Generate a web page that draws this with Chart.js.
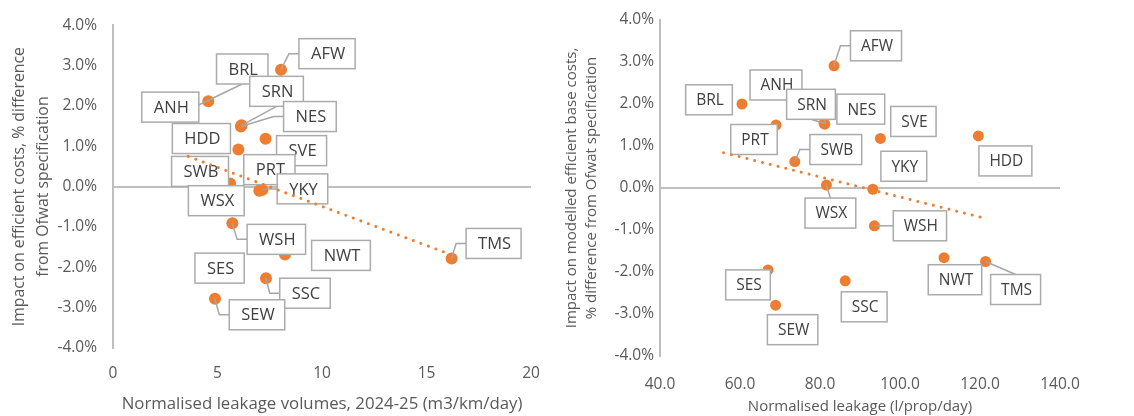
<!DOCTYPE html>
<html>
<head>
<meta charset="utf-8">
<script src="https://cdn.jsdelivr.net/npm/chart.js@4.4.1/dist/chart.umd.min.js"></script>
<style>
  html, body { margin: 0; padding: 0; background: #fff; }
  #wrap { position: relative; width: 1134px; height: 416px; }
  canvas { position: absolute; top: 0; }
  #leftChart { left: 0; }
  #rightChart { left: 560px; }
</style>
</head>
<body>
<div id="wrap">
  <canvas id="leftChart" width="560" height="416"></canvas>
  <canvas id="rightChart" width="574" height="416"></canvas>
</div>
<script>
// company codes, same order in both charts
const companies = ['AFW', 'BRL', 'ANH', 'SRN', 'NES', 'HDD', 'SVE', 'SWB', 'PRT', 'YKY', 'WSX', 'WSH', 'NWT', 'SES', 'SSC', 'SEW', 'TMS'];

// left chart: normalised leakage volumes (m3/km/day) vs impact on efficient costs (%)
const leakageVolumes = [8.04, 3.6, 4.56, 6.15, 6.12, 6.0, 7.3, 5.6, 7.1, 7.15, 7.0, 5.71, 8.23, 5.1, 7.32, 4.88, 16.2];
const impactCosts = [2.90, 1.90, 2.12, 1.52, 1.49, 0.92, 1.19, 0.08, -0.05, -0.08, -0.10, -0.91, -1.68, -2.02, -2.27, -2.78, -1.78];
const leftTrendX = [3.6, 16.2];
const leftTrendY = [0.75, -1.69];

// right chart: normalised leakage (l/prop/day) vs impact on modelled efficient base costs (%)
const leakagePerProp = [83.5, 56.0, 60.5, 81.0, 81.2, 119.6, 95.1, 73.7, 69.0, 93.2, 81.6, 93.6, 111.0, 67.0, 86.3, 68.9, 121.4];
const impactBaseCosts = [2.91, 2.10, 2.00, 1.54, 1.52, 1.24, 1.18, 0.63, 1.50, -0.03, 0.07, -0.90, -1.66, -1.95, -2.21, -2.79, -1.75];
const rightTrendX = [55.9, 120.8];
const rightTrendY = [0.84, -0.71];

// label box placement relative to its point (px) and where the leader line joins the box
const leftLabelPos = [
  [46, -16, 'L'], [54, -41, 'B'], [-38, 6], [35, -34, 'B'], [69, -10, 'L'], [-37, -11], [36, 12],
  [-30, -12], [8, -19], [40, -1, 'L'], [-43, 10], [44, 16, 'L'], [56, 1], [0, 0],
  [39, 15, 'L'], [42, 16, 'L'], [42, -15, 'L']
];
const rightLabelPos = [
  [42, -20, 'L'], [-15, 0], [34, -19], [-13, -19, 'B'], [36, -15, 'L'], [27, 25], [33, -17],
  [41, -12, 'L'], [-22, 14.5], [31, -23], [4, 28, 'T'], [45.5, 0, 'L'], [11, 22], [-20, 15],
  [19, 26], [17, 24.5], [30, 28, 'T']
];

const ORANGE = '#ED7D31';
const AXIS_GREY = '#BFBFBF';
const TEXT_GREY = '#595959';
const FONT = "'Open Sans', sans-serif";

const boxLabels = {
  id: 'boxLabels',
  afterDatasetDraw(chart, args, opts) {
    if (args.index !== 0) return;
    const ctx = chart.ctx;
    const xs = chart.scales.x, ys = chart.scales.y;
    const pts = chart.data.datasets[0].data;
    ctx.save();
    ctx.font = opts.fontSize + 'px ' + FONT;
    const boxes = pts.map((p, i) => {
      const px = xs.getPixelForValue(p.x), py = ys.getPixelForValue(p.y);
      const pos = opts.positions[i];
      const w = ctx.measureText(opts.names[i]).width + 2 * opts.padX;
      return { px, py, bx: px + pos[0], by: py + pos[1], w, h: opts.boxH, lead: pos[2], text: opts.names[i] };
    });
    // leader lines first, boxes go over them
    ctx.strokeStyle = '#A6A6A6';
    ctx.lineWidth = 1.5;
    boxes.forEach(b => {
      if (!b.lead) return;
      ctx.beginPath();
      ctx.moveTo(b.px, b.py);
      if (b.lead === 'L') {
        const ex = b.bx - b.w / 2;
        ctx.lineTo(ex - 10, b.by);
        ctx.lineTo(ex, b.by);
      } else if (b.lead === 'B') {
        ctx.lineTo(b.bx, b.by + b.h / 2);
      } else if (b.lead === 'T') {
        ctx.lineTo(b.bx, b.by - b.h / 2);
      }
      ctx.stroke();
    });
    ctx.textAlign = 'center';
    ctx.textBaseline = 'middle';
    boxes.forEach(b => {
      const l = b.bx - b.w / 2, t = b.by - b.h / 2;
      ctx.fillStyle = '#fff';
      ctx.fillRect(l, t, b.w, b.h);
      ctx.strokeStyle = '#ABABAB';
      ctx.lineWidth = 1.5;
      ctx.strokeRect(l, t, b.w, b.h);
      ctx.fillStyle = '#404040';
      ctx.fillText(b.text, b.bx + 1, b.by + 1);
    });
    ctx.restore();
  }
};

function makeChart(id, cfg) {
  const points = cfg.xs.map((x, i) => ({ x: x, y: cfg.ys[i] }));
  const trend = cfg.trendX.map((x, i) => ({ x: x, y: cfg.trendY[i] }));
  return new Chart(document.getElementById(id), {
    type: 'scatter',
    data: {
      datasets: [
        {
          data: points,
          backgroundColor: ORANGE,
          borderWidth: 0,
          pointRadius: cfg.dotR,
          order: 1
        },
        {
          type: 'line',
          data: trend,
          borderColor: ORANGE,
          borderWidth: 3,
          borderDash: [0.01, 8],
          borderCapStyle: 'round',
          pointRadius: 0,
          fill: false,
          order: 0
        }
      ]
    },
    options: {
      responsive: false,
      animation: false,
      devicePixelRatio: 1,
      layout: { padding: { left: 0, right: cfg.W - cfg.plotR, top: cfg.plotT, bottom: 0 } },
      plugins: {
        legend: { display: false },
        tooltip: { enabled: false },
        boxLabels: {
          names: companies,
          positions: cfg.labelPos,
          fontSize: cfg.labelFont,
          padX: cfg.padX,
          boxH: 30
        }
      },
      scales: {
        x: {
          type: 'linear',
          min: cfg.xMin,
          max: cfg.xMax,
          afterFit: s => { s.height = 416 - cfg.plotB; },
          ticks: {
            stepSize: cfg.xStep,
            padding: cfg.xTickPad,
            color: TEXT_GREY,
            font: { family: FONT, size: cfg.tickFont },
            callback: cfg.xFmt
          },
          grid: { display: false },
          border: { display: false },
          title: {
            display: true,
            text: cfg.xTitle,
            color: TEXT_GREY,
            font: { family: FONT, size: cfg.xTitleFont },
            padding: { top: 0, bottom: cfg.xTitlePad }
          }
        },
        y: {
          min: -4,
          max: 4,
          afterFit: s => { s.width = cfg.plotL; },
          ticks: {
            stepSize: 1,
            padding: cfg.yTickPad,
            color: TEXT_GREY,
            font: { family: FONT, size: cfg.tickFont },
            callback: v => v.toFixed(1) + '%'
          },
          grid: {
            drawTicks: false,
            lineWidth: 2,
            color: c => (c.tick && c.tick.value === 0 ? AXIS_GREY : 'rgba(0,0,0,0)')
          },
          border: { display: true, color: AXIS_GREY, width: 2 },
          title: {
            display: true,
            text: cfg.yTitle,
            color: TEXT_GREY,
            font: { family: FONT, size: cfg.yTitleFont, lineHeight: cfg.yTitleLH + 'px' },
            padding: { top: cfg.yTitlePad, bottom: 0 }
          }
        }
      }
    },
    plugins: [boxLabels]
  });
}

makeChart('leftChart', {
  W: 560, plotL: 113, plotR: 531, plotT: 21, plotB: 348,
  xs: leakageVolumes, ys: impactCosts, trendX: leftTrendX, trendY: leftTrendY,
  labelPos: leftLabelPos, labelFont: 16.5, padX: 11, dotR: 6,
  xMin: 0, xMax: 20, xStep: 5, xFmt: v => String(v),
  tickFont: 15.5, xTitleFont: 16.8, yTitleFont: 15.8, xTickPad: 8, xTitlePad: 2,
  yTickPad: 16, yTitleLH: 24, yTitlePad: 7,
  xTitle: 'Normalised leakage volumes, 2024-25 (m3/km/day)',
  yTitle: ['Impact on efficient costs, % difference', 'from Ofwat specification']
});

makeChart('rightChart', {
  W: 574, plotL: 100, plotR: 500, plotT: 20, plotB: 356,
  xs: leakagePerProp, ys: impactBaseCosts, trendX: rightTrendX, trendY: rightTrendY,
  labelPos: rightLabelPos, labelFont: 15.5, padX: 9.5, dotR: 5.5,
  xMin: 40, xMax: 140, xStep: 20, xFmt: v => v.toFixed(1),
  tickFont: 15.5, xTitleFont: 15, yTitleFont: 15, xTickPad: 11, xTitlePad: 0,
  yTickPad: 6, yTitleLH: 20, yTitlePad: 2,
  xTitle: 'Normalised leakage (l/prop/day)',
  yTitle: ['Impact on modelled efficient base costs,', '% difference from Ofwat specification']
});
</script>
</body>
</html>
